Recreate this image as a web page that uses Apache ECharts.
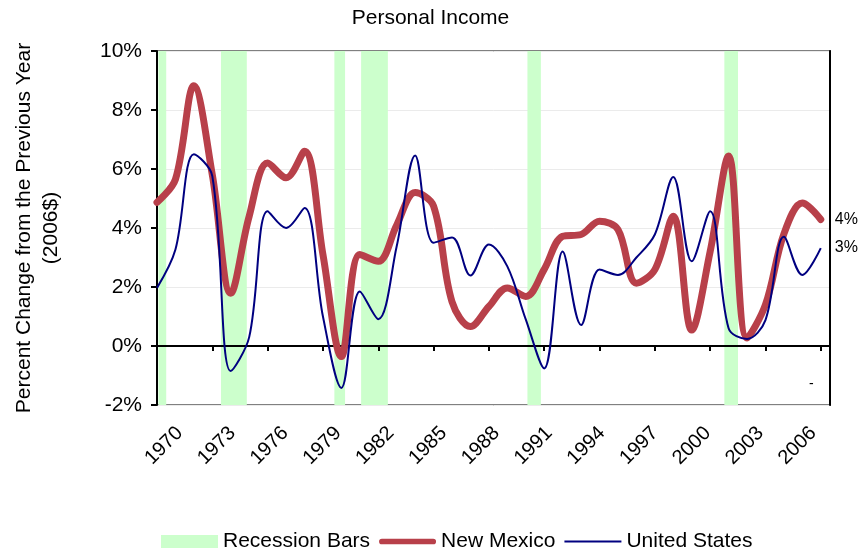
<!DOCTYPE html>
<html>
<head>
<meta charset="utf-8">
<script src="https://cdn.jsdelivr.net/npm/echarts@6/dist/echarts.min.js"></script>
<style>
  html, body { margin: 0; padding: 0; background: #ffffff; }
  #chart { width: 861px; height: 555px; }
</style>
</head>
<body>
<div id="chart"></div>
<script>
// Year-over-year change in real personal income (2006$), percent
const BASE_YEAR = 1970;

const years = [
  1970, 1971, 1972, 1973, 1974, 1975, 1976, 1977, 1978, 1979,
  1980, 1981, 1982, 1983, 1984, 1985, 1986, 1987, 1988, 1989,
  1990, 1991, 1992, 1993, 1994, 1995, 1996, 1997, 1998, 1999,
  2000, 2001, 2002, 2003, 2004, 2005, 2006
];

const newMexico = [
  4.87, 5.65, 8.82, 5.8, 1.79, 4.4, 6.2, 5.7, 6.6, 3.1,
  -0.36, 3.1, 2.87, 4.1, 5.2, 4.74, 1.5, 0.66, 1.34, 1.97,
  1.68, 2.6, 3.72, 3.78, 4.23, 3.95, 2.13, 2.59, 4.4, 0.54,
  3.2, 6.44, 0.27, 1.4, 3.8, 4.85, 4.29
];

const unitedStates = [
  1.97, 3.27, 6.5, 5.76, -0.85, 0.3, 4.57, 4.0, 4.68, 1.0,
  -1.42, 1.85, 0.91, 3.38, 6.46, 3.5, 3.68, 2.39, 3.44, 2.7,
  0.9, -0.76, 3.2, 0.71, 2.59, 2.41, 3.0, 3.78, 5.73, 2.87,
  4.57, 0.6, 0.24, 0.88, 3.7, 2.41, 3.32
];

// Recession periods as [start, end] in fractional years
const recessions = [
  [1970.08, 1970.5],
  [1973.47, 1974.87],
  [1979.62, 1980.2],
  [1981.07, 1982.52],
  [1990.09, 1990.82],
  [2000.77, 2001.51]
];

// every third year gets a tick and a label
const labelYears = years.filter((y) => (y - BASE_YEAR) % 3 === 0);

const seriesNames = ['Recession Bars', 'New Mexico', 'United States'];
const yAxisTitle = 'Percent Change from the Previous Year\n(2006$)';
const chartTitle = 'Personal Income';

const FONT = '"Liberation Sans", Arial, sans-serif';
const NM_COLOR = '#B8404A';
const US_COLOR = '#000080';
const REC_COLOR = '#CCFFCC';

// x positions are counted in years since BASE_YEAR so ticks fall on 1970, 1973, ...
const X_MAX = 36.5;
// the year labels run on a slightly tighter spacing than the tick marks
const LABEL_AXIS_MIN = -1.29;
const LABEL_AXIS_MAX = 36.95;

const toPoints = (vals) => years.map((y, i) => [y - BASE_YEAR, vals[i]]);
const endLabel = {
  show: true,
  formatter: (p) => Math.round(p.value[1]) + '%',
  distance: 14,
  fontSize: 16,
  color: '#000',
  fontFamily: FONT
};

const chart = echarts.init(document.getElementById('chart'), null, { renderer: 'canvas' });

chart.setOption({
  animation: false,
  backgroundColor: '#ffffff',
  textStyle: { fontFamily: FONT, color: '#000' },
  title: {
    text: chartTitle,
    left: 'center',
    top: 3,
    textStyle: { fontSize: 21, fontWeight: 'normal', color: '#000', fontFamily: FONT }
  },
  legend: {
    left: 161,
    top: 531,
    padding: 0,
    itemWidth: 57,
    itemHeight: 13,
    itemGap: 9,
    textStyle: { fontSize: 21, color: '#000', fontFamily: FONT },
    data: [
      { name: seriesNames[0], icon: 'rect', itemStyle: { color: REC_COLOR } },
      { name: seriesNames[1], icon: 'path://M3,0H57A3,3 0 0 1 57,6H3A3,3 0 0 1 3,0Z', itemStyle: { color: NM_COLOR } },
      { name: seriesNames[2], icon: 'path://M0,0H60V2H0Z', itemStyle: { color: US_COLOR } }
    ]
  },
  grid: {
    left: 157,
    right: 31,
    top: 51,
    bottom: 150,
    show: true,
    borderColor: '#808080',
    borderWidth: 2,
    backgroundColor: 'transparent'
  },
  xAxis: [
    {
      // bottom axis: year labels only
      type: 'value',
      position: 'bottom',
      min: LABEL_AXIS_MIN,
      max: LABEL_AXIS_MAX,
      axisLine: { show: false, onZero: false },
      axisTick: { show: false },
      splitLine: { show: false },
      axisLabel: {
        rotate: 45,
        margin: 25,
        fontSize: 20,
        color: '#000',
        fontFamily: FONT,
        showMinLabel: true,
        showMaxLabel: true,
        customValues: labelYears.map((y) => y - BASE_YEAR),
        formatter: (v) => String(BASE_YEAR + Math.round(v))
      }
    },
    {
      // axis line crossing at 0% with downward ticks
      type: 'value',
      position: 'top',
      min: 0,
      max: X_MAX,
      interval: 3,
      z: 1.5,
      axisLine: { show: true, onZero: true, lineStyle: { color: '#000', width: 2 } },
      axisTick: { show: true, inside: true, length: 5, lineStyle: { color: '#000', width: 2 } },
      axisLabel: { show: false },
      splitLine: { show: false }
    }
  ],
  yAxis: [
    {
      type: 'value',
      position: 'left',
      min: -2,
      max: 10,
      interval: 2,
      axisLine: { show: true, onZero: false, lineStyle: { color: '#000', width: 2 } },
      axisTick: { show: true, length: 6, lineStyle: { color: '#000', width: 2 } },
      axisLabel: { formatter: '{value}%', fontSize: 21, color: '#000', margin: 15, fontFamily: FONT },
      splitLine: { show: true, lineStyle: { color: '#ebebeb', width: 1 } },
      name: yAxisTitle,
      nameLocation: 'middle',
      nameRotate: 90,
      nameGap: 92,
      nameTextStyle: { fontSize: 21, color: '#000', lineHeight: 27, fontFamily: FONT }
    },
    {
      type: 'value',
      position: 'right',
      min: -2,
      max: 10,
      interval: 2,
      axisLine: { show: true, onZero: false, lineStyle: { color: '#000', width: 2 } },
      axisTick: { show: false },
      axisLabel: { show: false },
      splitLine: { show: false }
    }
  ],
  series: [
    {
      name: seriesNames[0],
      type: 'line',
      data: [],
      xAxisIndex: 1,
      yAxisIndex: 0,
      itemStyle: { color: REC_COLOR },
      lineStyle: { color: REC_COLOR },
      markArea: {
        silent: true,
        itemStyle: { color: REC_COLOR, opacity: 1, borderWidth: 0 },
        data: recessions.map(([a, b]) => [{ xAxis: a - BASE_YEAR }, { xAxis: b - BASE_YEAR }])
      }
    },
    {
      name: seriesNames[1],
      type: 'line',
      xAxisIndex: 1,
      yAxisIndex: 0,
      data: toPoints(newMexico),
      smooth: 0.35,
      symbol: 'none',
      showSymbol: false,
      lineStyle: { color: NM_COLOR, width: 7, cap: 'round', join: 'round' },
      itemStyle: { color: NM_COLOR },
      endLabel: endLabel,
      z: 2
    },
    {
      name: seriesNames[2],
      type: 'line',
      xAxisIndex: 1,
      yAxisIndex: 0,
      data: toPoints(unitedStates),
      smooth: 0.35,
      symbol: 'none',
      showSymbol: false,
      lineStyle: { color: US_COLOR, width: 2, join: 'round' },
      itemStyle: { color: US_COLOR },
      endLabel: endLabel,
      z: 3
    }
  ],
  graphic: [
    {
      type: 'text',
      left: 809,
      top: 377,
      style: { text: '-', fontSize: 14, fill: '#000', fontFamily: FONT }
    }
  ]
});
</script>
</body>
</html>
